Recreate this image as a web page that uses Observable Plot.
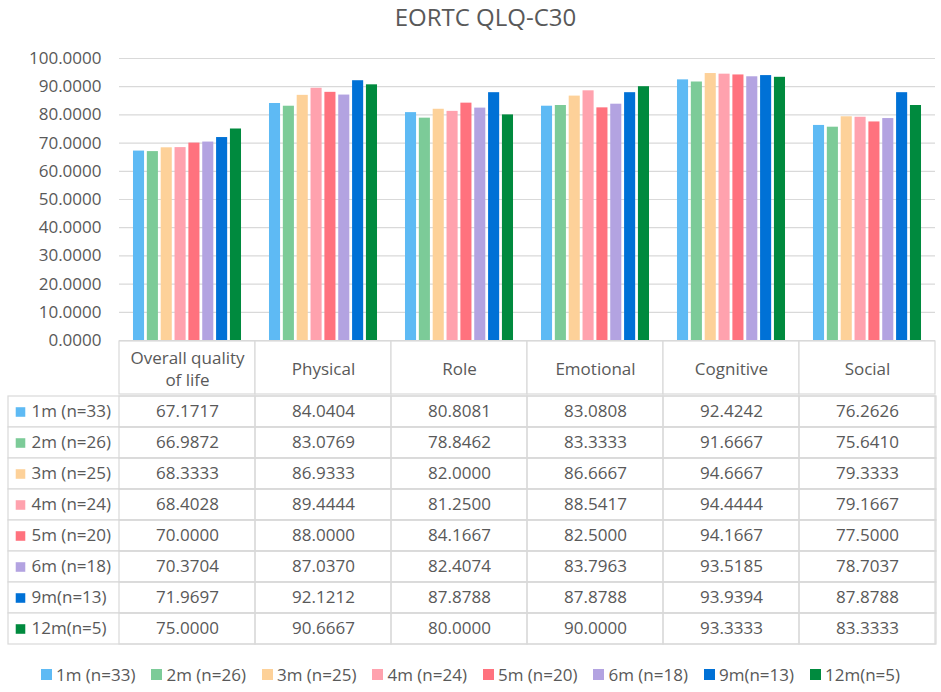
<!DOCTYPE html>
<html>
<head>
<meta charset="utf-8">
<script src="https://cdn.jsdelivr.net/npm/d3@7"></script>
<script src="https://cdn.jsdelivr.net/npm/@observablehq/plot@0.6"></script>
<style>
  html, body { margin: 0; padding: 0; background: white; }
  body { width: 941px; font-family: "Open Sans", sans-serif; color: #595959; }
  #title { height: 40px; line-height: 33px; text-align: center; font-size: 24px; padding-left: 30px; box-sizing: border-box; color: #595959; }
  svg { display: block; overflow: visible; }
  #chart { position: relative; z-index: 2; }
  #header, #body { position: relative; z-index: 1; }
  #legend { margin-top: 12px; padding-left: 16px; box-sizing: border-box; }
  .lg-swatches { justify-content: center !important; min-height: 33px; }
  .lg-swatch { margin-right: 16px !important; font-size: 17px; color: #595959; }
  .lg-swatch > svg { margin-right: 4px !important; }
</style>
</head>
<body>
<div id="title">EORTC QLQ-C30</div>
<div id="chart"></div>
<div id="header"></div>
<div id="body"></div>
<div id="legend"></div>
<script>
const categories = ["Overall quality of life", "Physical", "Role", "Emotional", "Cognitive", "Social"];
const series = ["1m (n=33)", "2m (n=26)", "3m (n=25)", "4m (n=24)", "5m (n=20)", "6m (n=18)", "9m(n=13)", "12m(n=5)"];
const colors = ["#5EBAF4", "#7CCB98", "#FDD199", "#FFA2AE", "#FF727E", "#B3A3E1", "#0071D6", "#008A3E"];
const v1m  = [67.1717, 84.0404, 80.8081, 83.0808, 92.4242, 76.2626];
const v2m  = [66.9872, 83.0769, 78.8462, 83.3333, 91.6667, 75.6410];
const v3m  = [68.3333, 86.9333, 82.0000, 86.6667, 94.6667, 79.3333];
const v4m  = [68.4028, 89.4444, 81.2500, 88.5417, 94.4444, 79.1667];
const v5m  = [70.0000, 88.0000, 84.1667, 82.5000, 94.1667, 77.5000];
const v6m  = [70.3704, 87.0370, 82.4074, 83.7963, 93.5185, 78.7037];
const v9m  = [71.9697, 92.1212, 87.8788, 87.8788, 93.9394, 87.8788];
const v12m = [75.0000, 90.6667, 80.0000, 90.0000, 93.3333, 83.3333];
const yTicks = [0, 10, 20, 30, 40, 50, 60, 70, 80, 90, 100];

const valueSets = [v1m, v2m, v3m, v4m, v5m, v6m, v9m, v12m];
const data = [];
series.forEach((s, i) => categories.forEach((c, j) => data.push({series: s, category: c, value: valueSets[i][j]})));

const textColor = "#595959";
const border = "#d9d9d9";
const fmt = d3.format(".4f");
const font = {fontFamily: "Open Sans, sans-serif", fontSize: "17px", color: textColor, background: "transparent", overflow: "visible"};

const chart = Plot.plot({
  width: 941, height: 300,
  marginLeft: 117, marginRight: 5, marginTop: 18, marginBottom: 0,
  style: font,
  facet: {data, x: "category"},
  fx: {domain: categories, padding: 0, axis: null},
  x: {domain: series, paddingInner: 0.2, paddingOuter: 1.01, round: false, axis: null},
  y: {domain: [0, 100], ticks: yTicks, tickFormat: fmt, tickSize: 0, tickPadding: 18, label: null},
  color: {domain: series, range: colors},
  marks: [
    Plot.ruleY(yTicks, {stroke: border, strokeWidth: 1.2}),
    Plot.barY(data, {x: "series", y: "value", fill: "series"})
  ]
});
document.getElementById("chart").appendChild(chart);

const header = Plot.plot({
  width: 941, height: 54,
  marginLeft: 117, marginRight: 5, marginTop: 1, marginBottom: 0,
  style: font,
  x: {domain: categories, padding: 0, axis: null},
  marks: [
    Plot.cell(categories, {x: d => d, stroke: border, fill: "white", strokeWidth: 1.2}),
    Plot.text(categories, {x: d => d, text: d => d, lineWidth: 7, lineHeight: 1.3, fontSize: 17, fill: textColor, frameAnchor: "middle"})
  ]
});
document.getElementById("header").appendChild(header);

const body = Plot.plot({
  width: 941, height: 252,
  marginLeft: 117, marginRight: 5, marginTop: 0, marginBottom: 1,
  style: font,
  x: {domain: categories, padding: 0, axis: null},
  y: {domain: series, padding: 0, axis: null},
  color: {domain: series, range: colors},
  marks: [
    Plot.cell(series, {y: d => d, stroke: border, fill: "white", strokeWidth: 1.2, insetLeft: -109}),
    Plot.cell(data, {x: "category", y: "series", stroke: border, fill: "none", strokeWidth: 1.2}),
    Plot.text(data, {x: "category", y: "series", text: d => fmt(d.value), fontSize: 17, fill: textColor}),
    Plot.dot(series, {y: d => d, frameAnchor: "left", dx: -97, symbol: "square", r: 5.4, fill: d => d}),
    Plot.text(series, {y: d => d, text: d => d, frameAnchor: "left", dx: -86, textAnchor: "start", fontSize: 17, fill: textColor})
  ]
});
document.getElementById("body").appendChild(body);

const legend = Plot.legend({
  color: {domain: series, range: colors},
  legend: "swatches",
  swatchSize: 11,
  className: "lg",
  style: {fontFamily: "Open Sans, sans-serif", fontSize: "17px", color: textColor}
});
document.getElementById("legend").appendChild(legend);
</script>
</body>
</html>
